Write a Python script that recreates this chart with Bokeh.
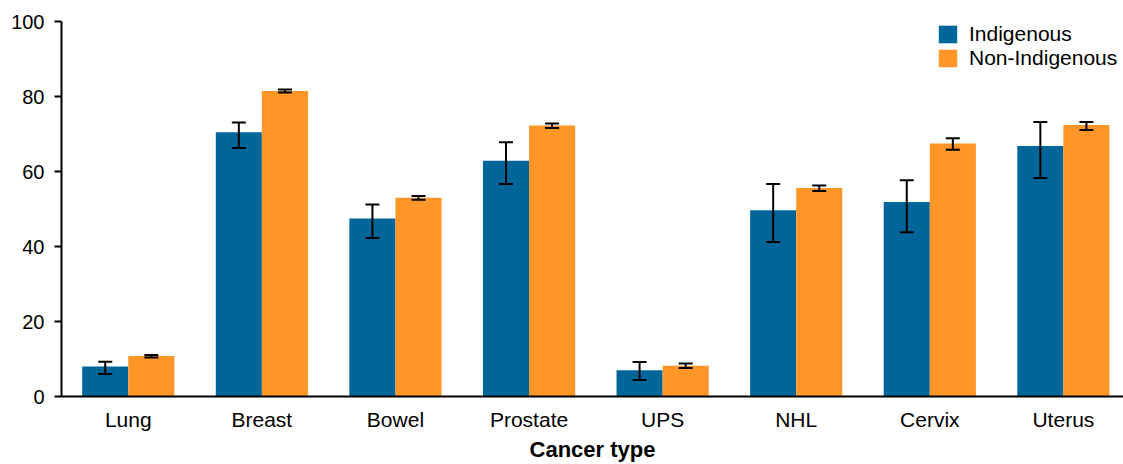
from bokeh.plotting import figure
from bokeh.models import (ColumnDataSource, Range1d, FixedTicker, Whisker, TeeHead,
                          Legend, LegendItem)
from bokeh.embed import file_html
from bokeh.resources import INLINE

# Five-year relative survival (%) by cancer type, with 95% confidence intervals
categories = ["Lung", "Breast", "Bowel", "Prostate", "UPS", "NHL", "Cervix", "Uterus"]
indigenous = [8.0, 70.5, 47.5, 62.9, 7.0, 49.7, 51.9, 66.8]
indigenous_lower = [6.0, 66.3, 42.3, 56.7, 4.4, 41.2, 43.8, 58.3]
indigenous_upper = [9.3, 73.1, 51.2, 67.8, 9.2, 56.7, 57.7, 73.2]
non_indigenous = [10.8, 81.5, 53.0, 72.3, 8.2, 55.6, 67.5, 72.4]
non_indigenous_lower = [10.4, 81.1, 52.5, 71.6, 7.6, 54.8, 65.8, 71.1]
non_indigenous_upper = [11.1, 81.9, 53.5, 72.8, 8.8, 56.3, 68.9, 73.2]
y_ticks = [0, 20, 40, 60, 80, 100]

BLUE = "#006699"
ORANGE = "#FF9627"
FONT = "Liberation Sans"
BAR_W = 0.345

centers = [i + 0.5 for i in range(len(categories))]
src_ind = ColumnDataSource(dict(
    x=[c - BAR_W / 2 for c in centers], top=indigenous,
    lower=indigenous_lower, upper=indigenous_upper))
src_non = ColumnDataSource(dict(
    x=[c + BAR_W / 2 for c in centers], top=non_indigenous,
    lower=non_indigenous_lower, upper=non_indigenous_upper))

p = figure(width=1123, height=464, output_backend="svg", toolbar_location=None,
           x_range=Range1d(0, 7.95), y_range=Range1d(0, 100),
           min_border_left=61, min_border_right=0, min_border_top=21,
           min_border_bottom=68)
p.outline_line_color = None
p.xgrid.visible = False
p.ygrid.visible = False

r_ind = p.vbar(x="x", top="top", width=BAR_W, source=src_ind,
               fill_color=BLUE, line_color=None)
r_non = p.vbar(x="x", top="top", width=BAR_W, source=src_non,
               fill_color=ORANGE, line_color=None)

for src in (src_ind, src_non):
    w = Whisker(base="x", lower="lower", upper="upper", source=src,
                line_color="black", line_width=2, level="overlay",
                upper_head=TeeHead(size=14, line_color="black", line_width=2),
                lower_head=TeeHead(size=14, line_color="black", line_width=2))
    p.add_layout(w)

# x axis: category names under each pair of bars, no ticks
xa = p.xaxis[0]
xa.ticker = FixedTicker(ticks=centers)
xa.major_label_overrides = {c: name for c, name in zip(centers, categories)}
xa.major_tick_line_color = None
xa.minor_tick_line_color = None
xa.major_tick_in = 0
xa.major_tick_out = 0
xa.axis_line_width = 2
xa.axis_line_color = "black"
xa.major_label_text_font = FONT
xa.major_label_text_font_size = "21px"
xa.major_label_text_color = "black"
xa.major_label_standoff = 11
xa.axis_label = "Cancer type"
xa.axis_label_text_font = FONT
xa.axis_label_text_font_style = "bold"
xa.axis_label_text_font_size = "22px"
xa.axis_label_text_color = "black"
xa.axis_label_standoff = 3

ya = p.yaxis[0]
ya.ticker = FixedTicker(ticks=y_ticks)
ya.minor_tick_line_color = None
ya.major_tick_in = 0
ya.major_tick_out = 7
ya.major_tick_line_width = 2
ya.axis_line_width = 2
ya.axis_line_color = "black"
ya.major_label_text_font = FONT
ya.major_label_text_font_size = "20px"
ya.major_label_text_color = "black"
ya.major_label_standoff = 10

legend = Legend(items=[LegendItem(label="Indigenous", renderers=[r_ind]),
                       LegendItem(label="Non-Indigenous", renderers=[r_non])],
                location=(875, 326), orientation="vertical",
                glyph_width=23, glyph_height=22, label_height=22,
                label_standoff=10, spacing=0, padding=0, margin=0,
                border_line_alpha=0, background_fill_alpha=0,
                label_text_font=FONT, label_text_font_size="21px",
                label_text_color="black")
p.add_layout(legend)

open("out.html", "w").write(file_html(p, INLINE))
